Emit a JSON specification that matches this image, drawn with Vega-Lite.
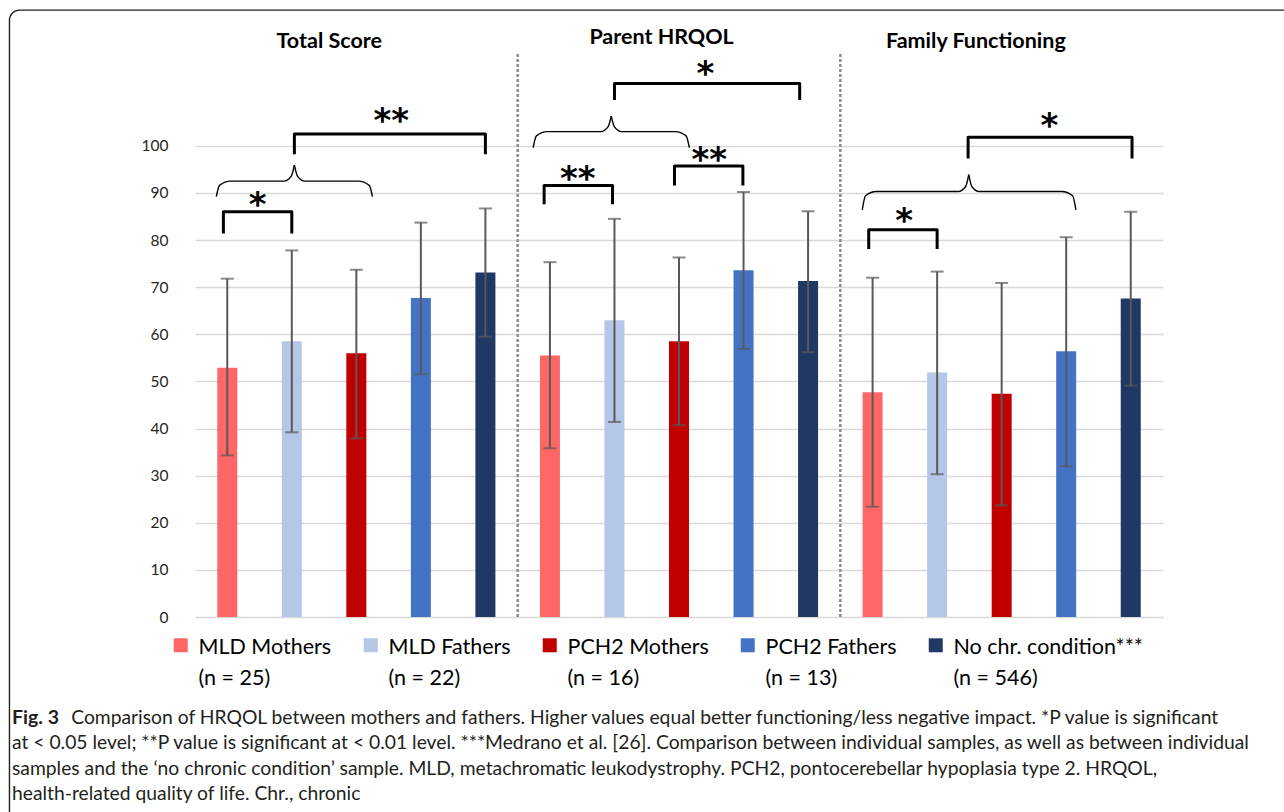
{
  "$schema": "https://vega.github.io/schema/vega-lite/v6.json",
  "width": 968,
  "height": 589,
  "autosize": {"type": "none"},
  "padding": {"left": 195, "top": 28, "right": 121, "bottom": 195},
  "background": "white",
  "config": {
    "view": {"stroke": null},
    "font": "Lato",
    "style": {"guide-label": {"lineHeight": 31.5}}
  },
  "title": {
    "text": "Fig. 3",
    "subtitle": [
      "\u200b\u00a0\u00a0\u00a0\u00a0\u00a0\u00a0\u00a0\u00a0\u00a0\u00a0\u00a0\u00a0Comparison of HRQOL between mothers and fathers. Higher values equal better functioning/less negative impact. *P value is significant",
      "at < 0.05 level; **P value is significant at < 0.01 level. ***Medrano et al. [26]. Comparison between individual samples, as well as between individual",
      "samples and the ‘no chronic condition’ sample. MLD, metachromatic leukodystrophy. PCH2, pontocerebellar hypoplasia type 2. HRQOL,",
      "health-related quality of life. Chr., chronic"
    ],
    "orient": "bottom",
    "anchor": "start",
    "frame": "group",
    "dx": -183,
    "offset": -121,
    "font": "Lato",
    "fontSize": 19.5,
    "fontWeight": "bold",
    "color": "#231f20",
    "subtitleFont": "Lato",
    "subtitleFontSize": 19.3,
    "subtitleColor": "#231f20",
    "subtitleLineHeight": 25.5,
    "subtitlePadding": -19.5
  },
  "datasets": {
    "bars": [
      {"group": "Total Score", "series": "MLD Mothers", "key": "Total Score|MLD Mothers", "mean": 52.9, "lo": 34.3, "hi": 71.8},
      {"group": "Total Score", "series": "MLD Fathers", "key": "Total Score|MLD Fathers", "mean": 58.5, "lo": 39.2, "hi": 77.8},
      {"group": "Total Score", "series": "PCH2 Mothers", "key": "Total Score|PCH2 Mothers", "mean": 56.0, "lo": 37.9, "hi": 73.7},
      {"group": "Total Score", "series": "PCH2 Fathers", "key": "Total Score|PCH2 Fathers", "mean": 67.7, "lo": 51.5, "hi": 83.7},
      {"group": "Total Score", "series": "No chr. condition***", "key": "Total Score|No chr. condition***", "mean": 73.1, "lo": 59.5, "hi": 86.7},
      {"group": "Parent HRQOL", "series": "MLD Mothers", "key": "Parent HRQOL|MLD Mothers", "mean": 55.5, "lo": 35.8, "hi": 75.3},
      {"group": "Parent HRQOL", "series": "MLD Fathers", "key": "Parent HRQOL|MLD Fathers", "mean": 63.0, "lo": 41.4, "hi": 84.5},
      {"group": "Parent HRQOL", "series": "PCH2 Mothers", "key": "Parent HRQOL|PCH2 Mothers", "mean": 58.5, "lo": 40.7, "hi": 76.3},
      {"group": "Parent HRQOL", "series": "PCH2 Fathers", "key": "Parent HRQOL|PCH2 Fathers", "mean": 73.6, "lo": 56.9, "hi": 90.2},
      {"group": "Parent HRQOL", "series": "No chr. condition***", "key": "Parent HRQOL|No chr. condition***", "mean": 71.3, "lo": 56.2, "hi": 86.1},
      {"group": "Family Functioning", "series": "MLD Mothers", "key": "Family Functioning|MLD Mothers", "mean": 47.7, "lo": 23.4, "hi": 72.0},
      {"group": "Family Functioning", "series": "MLD Fathers", "key": "Family Functioning|MLD Fathers", "mean": 51.9, "lo": 30.3, "hi": 73.3},
      {"group": "Family Functioning", "series": "PCH2 Mothers", "key": "Family Functioning|PCH2 Mothers", "mean": 47.4, "lo": 23.7, "hi": 70.9},
      {"group": "Family Functioning", "series": "PCH2 Fathers", "key": "Family Functioning|PCH2 Fathers", "mean": 56.4, "lo": 32.0, "hi": 80.6},
      {"group": "Family Functioning", "series": "No chr. condition***", "key": "Family Functioning|No chr. condition***", "mean": 67.6, "lo": 49.1, "hi": 86.0}
    ],
    "frame": [{"x1": -3.375, "x2": 17, "y1": 128.8, "y2": -45}],
    "separators": [{"xi": 4.5}, {"xi": 9.5}],
    "headings": [
      {"label": "Total Score", "xi": 1.58, "y": 122.1},
      {"label": "Parent HRQOL", "xi": 6.73, "y": 122.9},
      {"label": "Family Functioning", "xi": 11.6, "y": 122.1}
    ],
    "brackets": [
      {"b": "A", "o": 0, "xi": -0.06, "y": 81.4}, {"b": "A", "o": 1, "xi": -0.06, "y": 86.0}, {"b": "A", "o": 2, "xi": 1.0, "y": 86.0}, {"b": "A", "o": 3, "xi": 1.0, "y": 81.4},
      {"b": "B", "o": 0, "xi": 1.04, "y": 98.2}, {"b": "B", "o": 1, "xi": 1.04, "y": 102.5}, {"b": "B", "o": 2, "xi": 4.0, "y": 102.5}, {"b": "B", "o": 3, "xi": 4.0, "y": 98.2},
      {"b": "C", "o": 0, "xi": 4.91, "y": 87.6}, {"b": "C", "o": 1, "xi": 4.91, "y": 91.6}, {"b": "C", "o": 2, "xi": 5.97, "y": 91.6}, {"b": "C", "o": 3, "xi": 5.97, "y": 87.6},
      {"b": "D", "o": 0, "xi": 6.0, "y": 109.7}, {"b": "D", "o": 1, "xi": 6.0, "y": 113.2}, {"b": "D", "o": 2, "xi": 8.87, "y": 113.2}, {"b": "D", "o": 3, "xi": 8.87, "y": 109.7},
      {"b": "E", "o": 0, "xi": 6.93, "y": 91.6}, {"b": "E", "o": 1, "xi": 6.93, "y": 95.7}, {"b": "E", "o": 2, "xi": 7.99, "y": 95.7}, {"b": "E", "o": 3, "xi": 7.99, "y": 91.6},
      {"b": "F", "o": 0, "xi": 9.94, "y": 78.1}, {"b": "F", "o": 1, "xi": 9.94, "y": 82.2}, {"b": "F", "o": 2, "xi": 11.0, "y": 82.2}, {"b": "F", "o": 3, "xi": 11.0, "y": 78.1},
      {"b": "G", "o": 0, "xi": 11.48, "y": 97.3}, {"b": "G", "o": 1, "xi": 11.48, "y": 101.8}, {"b": "G", "o": 2, "xi": 14.02, "y": 101.8}, {"b": "G", "o": 3, "xi": 14.02, "y": 97.3}
    ],
    "braces": [
      {"b": "1L", "o": 0, "xi": -0.17, "y": 89.2}, {"b": "1L", "o": 1, "xi": -0.12, "y": 91.6}, {"b": "1L", "o": 2, "xi": 0.05, "y": 92.5}, {"b": "1L", "o": 3, "xi": 0.88, "y": 92.5}, {"b": "1L", "o": 4, "xi": 0.99, "y": 93.5}, {"b": "1L", "o": 5, "xi": 1.04, "y": 95.9},
      {"b": "1R", "o": 0, "xi": 1.04, "y": 95.9}, {"b": "1R", "o": 1, "xi": 1.09, "y": 93.5}, {"b": "1R", "o": 2, "xi": 1.2, "y": 92.5}, {"b": "1R", "o": 3, "xi": 2.03, "y": 92.5}, {"b": "1R", "o": 4, "xi": 2.2, "y": 91.6}, {"b": "1R", "o": 5, "xi": 2.25, "y": 89.2},
      {"b": "2L", "o": 0, "xi": 4.74, "y": 99.6}, {"b": "2L", "o": 1, "xi": 4.79, "y": 102.1}, {"b": "2L", "o": 2, "xi": 4.96, "y": 103.0}, {"b": "2L", "o": 3, "xi": 5.79, "y": 103.0}, {"b": "2L", "o": 4, "xi": 5.9, "y": 104.0}, {"b": "2L", "o": 5, "xi": 5.95, "y": 106.3},
      {"b": "2R", "o": 0, "xi": 5.95, "y": 106.3}, {"b": "2R", "o": 1, "xi": 6.0, "y": 104.0}, {"b": "2R", "o": 2, "xi": 6.11, "y": 103.0}, {"b": "2R", "o": 3, "xi": 6.94, "y": 103.0}, {"b": "2R", "o": 4, "xi": 7.11, "y": 102.1}, {"b": "2R", "o": 5, "xi": 7.16, "y": 99.6},
      {"b": "3L", "o": 0, "xi": 9.84, "y": 86.4}, {"b": "3L", "o": 1, "xi": 9.89, "y": 89.4}, {"b": "3L", "o": 2, "xi": 10.06, "y": 90.3}, {"b": "3L", "o": 3, "xi": 11.33, "y": 90.3}, {"b": "3L", "o": 4, "xi": 11.44, "y": 91.3}, {"b": "3L", "o": 5, "xi": 11.49, "y": 93.9},
      {"b": "3R", "o": 0, "xi": 11.49, "y": 93.9}, {"b": "3R", "o": 1, "xi": 11.54, "y": 91.3}, {"b": "3R", "o": 2, "xi": 11.65, "y": 90.3}, {"b": "3R", "o": 3, "xi": 12.93, "y": 90.3}, {"b": "3R", "o": 4, "xi": 13.1, "y": 89.4}, {"b": "3R", "o": 5, "xi": 13.15, "y": 86.4}
    ],
    "stars": [
      {"s": "*", "xi": 0.47, "y": 89.2},
      {"s": "**", "xi": 2.54, "y": 106.9},
      {"s": "**", "xi": 5.43, "y": 94.7},
      {"s": "*", "xi": 7.41, "y": 117.0},
      {"s": "**", "xi": 7.47, "y": 98.7},
      {"s": "*", "xi": 10.49, "y": 85.8},
      {"s": "*", "xi": 12.74, "y": 105.8}
    ]
  },
  "layer": [
    {
      "layer": [
        {
          "data": {"name": "bars"},
          "mark": {"type": "bar"},
          "encoding": {
            "x": {"field": "key", "type": "nominal", "sort": null, "scale": {"paddingInner": 0.69, "paddingOuter": 0.345}, "axis": null},
            "y": {
              "field": "mean", "type": "quantitative",
              "scale": {"domain": [0, 125], "nice": false, "zero": true},
              "axis": {
                "values": [0, 10, 20, 30, 40, 50, 60, 70, 80, 90, 100],
                "title": null, "domain": false, "ticks": false, "grid": true,
                "gridColor": "#d9d9d9", "gridWidth": 1.6,
                "labelPadding": 27, "labelFont": "Lato", "labelFontSize": 15.5, "labelColor": "#262626"
              }
            },
            "color": {
              "field": "series", "type": "nominal",
              "scale": {
                "domain": ["MLD Mothers", "MLD Fathers", "PCH2 Mothers", "PCH2 Fathers", "No chr. condition***"],
                "range": ["#ff6666", "#b4c7e7", "#c00000", "#4472c4", "#203864"]
              },
              "legend": {
                "orient": "none", "legendX": -25, "legendY": 598,
                "direction": "horizontal", "columns": 5, "title": null, "padding": 0,
                "symbolType": "M-1,0.2H1V2.2H-1Z", "symbolSize": 196, "symbolStrokeWidth": 0, "symbolOpacity": 1,
                "labelFont": "Lato", "labelFontSize": 21.5, "labelColor": "#000000", "labelLimit": 400,
                "labelOffset": 7, "columnPadding": 28, "labelBaseline": "top",
                "labelExpr": "datum.label == 'MLD Mothers' ? ['MLD Mothers', '(n = 25)'] : datum.label == 'MLD Fathers' ? ['MLD Fathers', '(n = 22)'] : datum.label == 'PCH2 Mothers' ? ['PCH2 Mothers', '(n = 16)'] : datum.label == 'PCH2 Fathers' ? ['PCH2 Fathers', '(n = 13)'] : ['No chr. condition***', '(n = 546)']"
              }
            }
          }
        },
        {
          "data": {"name": "bars"},
          "mark": {"type": "rule", "color": "#595959", "strokeWidth": 2},
          "encoding": {
            "x": {"field": "key", "type": "nominal", "sort": null},
            "y": {"field": "lo", "type": "quantitative"},
            "y2": {"field": "hi"}
          }
        },
        {
          "data": {"name": "bars"},
          "mark": {"type": "tick", "color": "#595959", "thickness": 2, "size": 13},
          "encoding": {
            "x": {"field": "key", "type": "nominal", "sort": null},
            "y": {"field": "lo", "type": "quantitative"}
          }
        },
        {
          "data": {"name": "bars"},
          "mark": {"type": "tick", "color": "#595959", "thickness": 2, "size": 13},
          "encoding": {
            "x": {"field": "key", "type": "nominal", "sort": null},
            "y": {"field": "hi", "type": "quantitative"}
          }
        }
      ]
    },
    {
      "layer": [
        {
          "data": {"name": "frame"},
          "mark": {"type": "rect", "fill": null, "fillOpacity": 0, "stroke": "#231f20", "strokeWidth": 1.4, "cornerRadius": 10, "clip": false},
          "encoding": {
            "x": {"field": "x1", "type": "quantitative", "scale": {"domain": [-0.5, 14.5], "nice": false, "zero": false}, "axis": null},
            "x2": {"field": "x2"},
            "y": {"field": "y1", "type": "quantitative"},
            "y2": {"field": "y2"}
          }
        },
        {
          "data": {"name": "separators"},
          "mark": {"type": "rule", "color": "#8c8c8c", "strokeWidth": 2.5, "strokeDash": [3, 2]},
          "encoding": {
            "x": {"field": "xi", "type": "quantitative", "scale": {"domain": [-0.5, 14.5], "nice": false, "zero": false}, "axis": null},
            "y": {"datum": 0},
            "y2": {"datum": 119.5}
          }
        },
        {
          "data": {"name": "headings"},
          "mark": {"type": "text", "font": "Lato", "fontWeight": "bold", "fontSize": 21.5, "color": "#000000", "baseline": "middle", "align": "center"},
          "encoding": {
            "x": {"field": "xi", "type": "quantitative", "scale": {"domain": [-0.5, 14.5], "nice": false, "zero": false}, "axis": null},
            "y": {"field": "y", "type": "quantitative"},
            "text": {"field": "label"}
          }
        },
        {
          "data": {"name": "brackets"},
          "mark": {"type": "line", "color": "#000000", "strokeWidth": 3, "strokeJoin": "round", "strokeCap": "butt"},
          "encoding": {
            "x": {"field": "xi", "type": "quantitative", "scale": {"domain": [-0.5, 14.5], "nice": false, "zero": false}, "axis": null},
            "y": {"field": "y", "type": "quantitative"},
            "detail": {"field": "b"},
            "order": {"field": "o"}
          }
        },
        {
          "data": {"name": "braces"},
          "mark": {"type": "line", "color": "#000000", "strokeWidth": 1.4, "interpolate": "monotone"},
          "encoding": {
            "x": {"field": "xi", "type": "quantitative", "scale": {"domain": [-0.5, 14.5], "nice": false, "zero": false}, "axis": null},
            "y": {"field": "y", "type": "quantitative"},
            "detail": {"field": "b"},
            "order": {"field": "o"}
          }
        },
        {
          "data": {"name": "stars"},
          "mark": {"type": "text", "font": "DejaVu Sans", "fontWeight": "bold", "fontSize": 34, "color": "#000000", "baseline": "alphabetic", "align": "center", "dy": 19},
          "encoding": {
            "x": {"field": "xi", "type": "quantitative", "scale": {"domain": [-0.5, 14.5], "nice": false, "zero": false}, "axis": null},
            "y": {"field": "y", "type": "quantitative"},
            "text": {"field": "s"}
          }
        }
      ]
    }
  ],
  "resolve": {"scale": {"x": "independent"}}
}
